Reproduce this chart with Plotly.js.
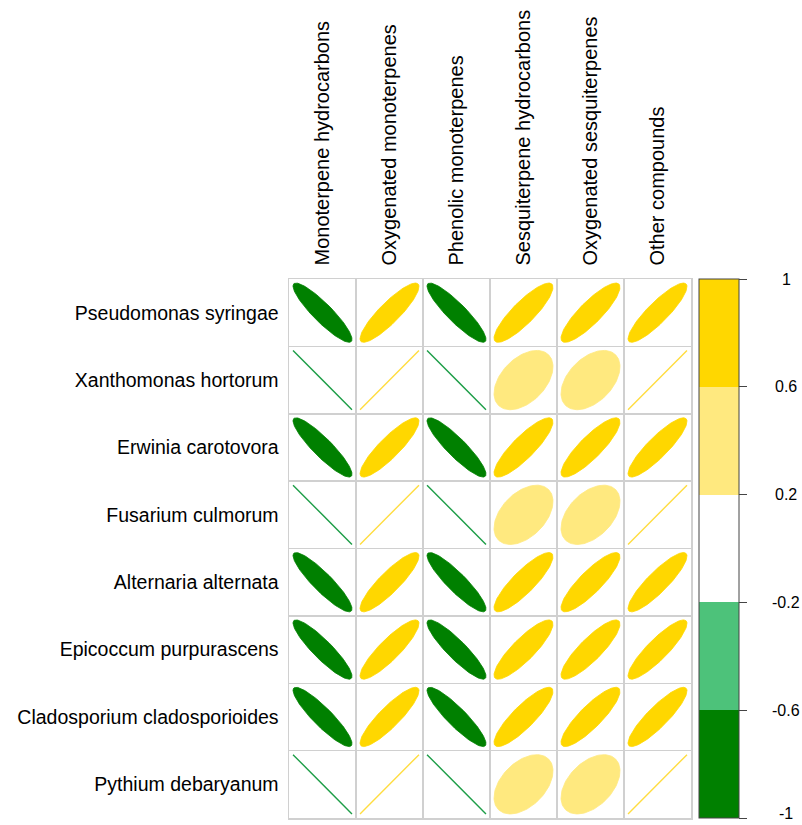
<!DOCTYPE html>
<html>
<head>
<meta charset="utf-8">
<script src="https://cdn.plot.ly/plotly-3.0.1.min.js"></script>
<style>html,body{margin:0;padding:0;background:#fff;}</style>
</head>
<body>
<div id="chart" style="width:802px;height:825px;"></div>
<script>
// ---- data ----
const compounds = ["Monoterpene hydrocarbons", "Oxygenated monoterpenes", "Phenolic monoterpenes",
                   "Sesquiterpene hydrocarbons", "Oxygenated sesquiterpenes", "Other compounds"];
const organisms = ["Pseudomonas syringae", "Xanthomonas hortorum", "Erwinia carotovora",
                   "Fusarium culmorum", "Alternaria alternata", "Epicoccum purpurascens",
                   "Cladosporium cladosporioides", "Pythium debaryanum"];
const rPseudomonas   = [-0.90, 0.88, -0.90, 0.86, 0.86, 0.88];
const rXanthomonas   = [-1.00, 1.00, -1.00, 0.45, 0.45, 1.00];
const rErwinia       = [-0.90, 0.88, -0.90, 0.86, 0.86, 0.88];
const rFusarium      = [-1.00, 1.00, -1.00, 0.45, 0.45, 1.00];
const rAlternaria    = [-0.90, 0.88, -0.90, 0.86, 0.86, 0.88];
const rEpicoccum     = [-0.90, 0.88, -0.90, 0.86, 0.86, 0.88];
const rCladosporium  = [-0.90, 0.88, -0.90, 0.86, 0.86, 0.88];
const rPythium       = [-1.00, 1.00, -1.00, 0.45, 0.45, 1.00];
const corrRows = [rPseudomonas, rXanthomonas, rErwinia, rFusarium, rAlternaria, rEpicoccum, rCladosporium, rPythium];
const colorBreaks = [-1, -0.6, -0.2, 0.2, 0.6, 1];
const colorTickLabels = ["-1", "-0.6", "-0.2", "0.2", "0.6", "1"];
const binColors = ["#008000", "#4DC27A", "#FFFFFF", "#FFE97F", "#FFD700"];

// ---- helpers ----
function colorFor(r) {
  for (let i = 0; i < binColors.length; i++) {
    if (r <= colorBreaks[i + 1] + 1e-9) return binColors[i];
  }
  return binColors[binColors.length - 1];
}
const SCALE = 0.88;
function ellipse(cx, cy, rho) {
  const a = Math.acos(Math.max(-1, Math.min(1, rho))) / 2;
  const xs = [], ys = [];
  const n = 120;
  for (let i = 0; i <= n; i++) {
    const k = 2 * Math.PI * i / n;
    xs.push(cx + SCALE * Math.cos(k + a) / 2);
    ys.push(cy - SCALE * Math.cos(k - a) / 2); // y axis reversed: up = smaller row value
  }
  return {xs, ys};
}

const traces = [];
corrRows.forEach((row, ri) => {
  row.forEach((r, ci) => {
    const e = ellipse(ci + 1, ri + 1, r);
    const col = colorFor(r);
    const degenerate = Math.abs(r) > 0.999;
    traces.push({
      type: "scatter", mode: "lines", x: e.xs, y: e.ys,
      fill: degenerate ? "none" : "toself", fillcolor: col,
      line: {color: degenerate ? (r < 0 ? "#1E9E48" : "#FFDD40") : col, width: degenerate ? 1.4 : 0.8},
      hoverinfo: "skip", showlegend: false
    });
  });
});

// colourbar carrier
const csc = [];
binColors.forEach((c, i) => {
  csc.push([i / binColors.length, c]);
  csc.push([(i + 1) / binColors.length, c]);
});
traces.push({
  type: "scatter", mode: "markers", x: [1], y: [1],
  marker: {
    size: 1, opacity: 0, color: [0], cmin: -1, cmax: 1, colorscale: csc, showscale: true,
    colorbar: {
      thickness: 40, thicknessmode: "pixels", len: 1, lenmode: "fraction",
      x: (699 - 289) / 402, xanchor: "left", xref: "paper", y: 0.5, yanchor: "middle", yref: "paper",
      xpad: 0, ypad: 0, outlinecolor: "#444", outlinewidth: 1,
      tickmode: "array", tickvals: colorBreaks, ticks: "outside", ticklen: 8, tickcolor: "#444", tickwidth: 1,
      showticklabels: false
    }
  },
  hoverinfo: "skip", showlegend: false
});

const boundsX = [], boundsY = [];
for (let i = 0; i <= compounds.length; i++) boundsX.push(i + 0.5);
for (let i = 0; i <= organisms.length; i++) boundsY.push(i + 0.5);

const annotations = colorBreaks.map((v, i) => ({
  xref: "paper", yref: "paper", x: (786 - 289) / 402, y: (v + 1) / 2,
  text: colorTickLabels[i], showarrow: false, xanchor: "center",
  yanchor: i === 0 ? "bottom" : "middle", yshift: i === 0 ? -6 : 0,
  font: {family: "Liberation Sans, Arial, sans-serif", size: 16, color: "#000"}
}));

const layout = {
  width: 802, height: 825, autosize: false,
  margin: {l: 289, r: 111, t: 279, b: 7, pad: 0},
  paper_bgcolor: "#fff", plot_bgcolor: "#fff",
  font: {family: "Liberation Sans, Arial, sans-serif", color: "#000"},
  xaxis: {
    range: [0.5, compounds.length + 0.5], side: "top", tickmode: "array",
    tickvals: compounds.map((_, i) => i + 1), ticktext: compounds, tickangle: -90,
    tickfont: {size: 20, color: "#000"}, ticks: "", ticklabelstandoff: 8,
    showgrid: false, zeroline: false, showline: true, mirror: true, linecolor: "#d0d0d0", linewidth: 1.5,
    minor: {tickmode: "array", tickvals: boundsX, showgrid: true, gridcolor: "#d0d0d0", gridwidth: 1.5, ticks: ""},
    fixedrange: true
  },
  yaxis: {
    range: [organisms.length + 0.5, 0.5], tickmode: "array",
    tickvals: organisms.map((_, i) => i + 1), ticktext: organisms,
    tickfont: {size: 19.5, color: "#000"}, ticks: "", ticklabelstandoff: 5,
    showgrid: false, zeroline: false, showline: true, mirror: true, linecolor: "#d0d0d0", linewidth: 1.5,
    minor: {tickmode: "array", tickvals: boundsY, showgrid: true, gridcolor: "#d0d0d0", gridwidth: 1.5, ticks: ""},
    fixedrange: true
  },
  annotations: annotations
};

Plotly.newPlot("chart", traces, layout, {displayModeBar: false, staticPlot: true});
</script>
</body>
</html>
